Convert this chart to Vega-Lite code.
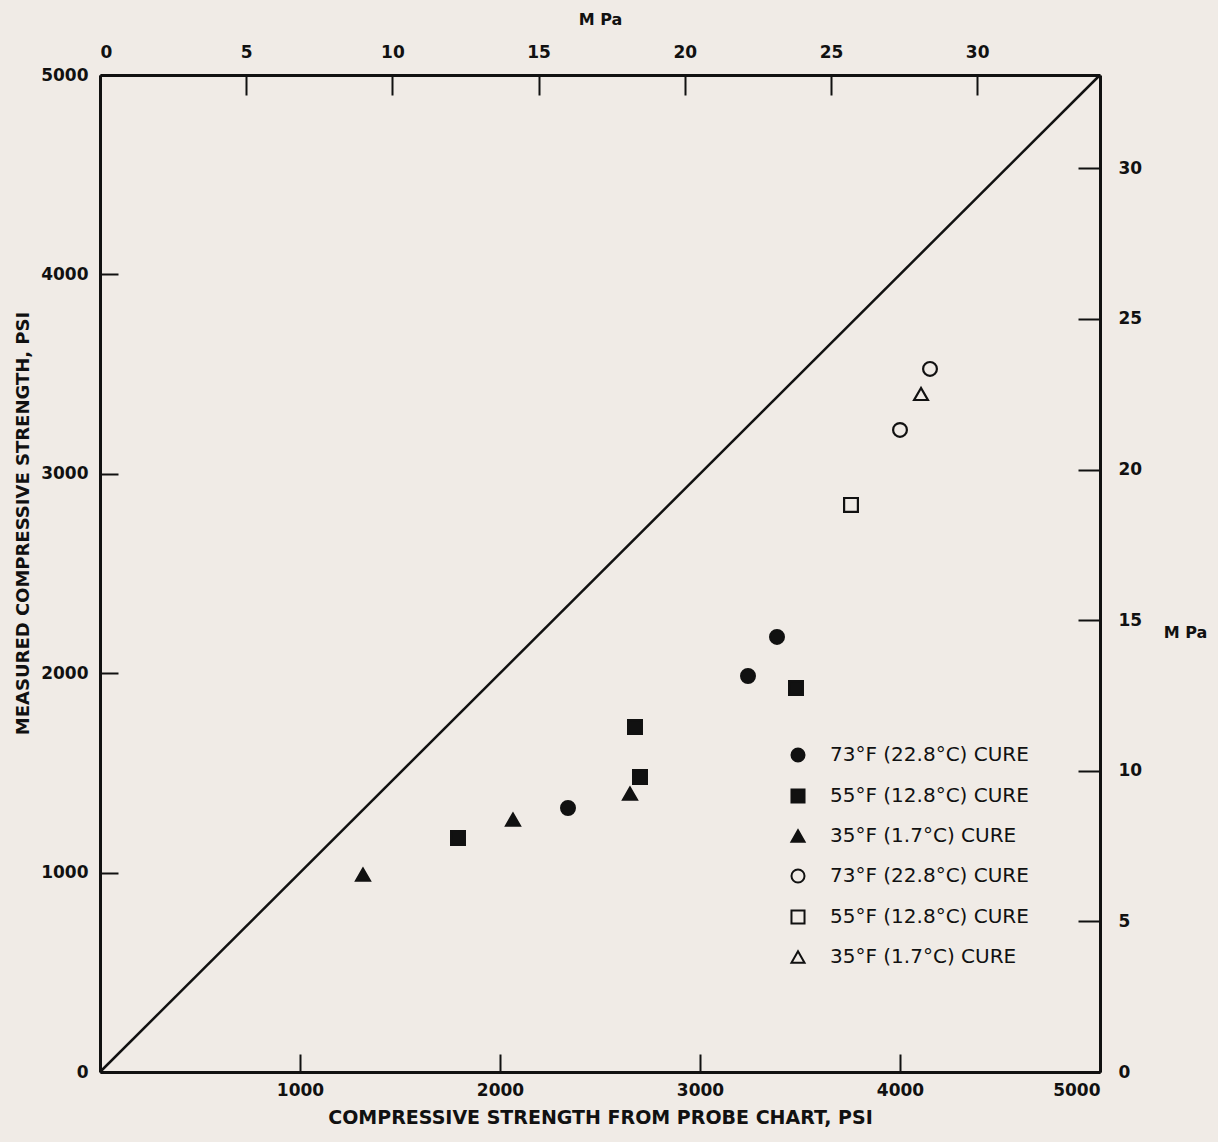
{
  "$schema": "https://vega.github.io/schema/vega-lite/v6.json",
  "autosize": {"type": "none"},
  "width": 1000,
  "height": 997,
  "padding": {"left": 100, "top": 75, "right": 118, "bottom": 70},
  "background": "#f0ebe6",
  "config": {
    "view": {"stroke": null},
    "axis": {"labelFont": "DejaVu Sans", "titleFont": "DejaVu Sans", "labelColor": "#111", "titleColor": "#111", "domainColor": "#111", "tickColor": "#111", "grid": false, "labelFontWeight": "bold", "titleFontWeight": "bold", "format": "d"}
  },
  "datasets": {
    "pts": [
      {"series": "A1", "probe": 2340, "measured": 1324},
      {"series": "A1", "probe": 3240, "measured": 1986},
      {"series": "A1", "probe": 3385, "measured": 2182},
      {"series": "A2", "probe": 1790, "measured": 1174},
      {"series": "A2", "probe": 2675, "measured": 1730},
      {"series": "A2", "probe": 2700, "measured": 1479},
      {"series": "A2", "probe": 3480, "measured": 1926},
      {"series": "A3", "probe": 1315, "measured": 990},
      {"series": "A3", "probe": 2065, "measured": 1266},
      {"series": "A3", "probe": 2650, "measured": 1396},
      {"series": "B1", "probe": 4150, "measured": 3526},
      {"series": "B1", "probe": 4000, "measured": 3220},
      {"series": "B2", "probe": 3755, "measured": 2844},
      {"series": "B3", "probe": 4105, "measured": 3400}
    ],
    "diag": [
      {"probe": 0, "measured": 0},
      {"probe": 5000, "measured": 5000}
    ]
  },
  "layer": [
    {
      "layer": [
        {
          "data": {"name": "diag"},
          "mark": {"type": "line", "color": "#111", "strokeWidth": 2.5},
          "encoding": {
            "x": {"field": "probe", "type": "quantitative", "scale": {"domain": [0, 5000], "nice": false},
              "axis": {"orient": "bottom", "values": [1000, 2000, 3000, 4000, 5000], "title": "COMPRESSIVE STRENGTH FROM PROBE CHART, PSI", "tickSize": -18, "tickWidth": 2, "domainWidth": 3, "labelFontSize": 17, "labelPadding": 28, "titleFontSize": 19, "titlePadding": 10}},
            "y": {"field": "measured", "type": "quantitative", "scale": {"domain": [0, 5000], "nice": false},
              "axis": {"orient": "left", "values": [0, 1000, 2000, 3000, 4000, 5000], "title": "MEASURED COMPRESSIVE STRENGTH, PSI", "titleY": 448, "tickSize": -18, "tickWidth": 2, "domainWidth": 3, "labelFontSize": 17, "labelPadding": 30, "titleFontSize": 18, "titlePadding": 8}}
          }
        },
        {
          "data": {"name": "pts"},
          "mark": {"type": "point", "filled": true, "strokeWidth": 2.2, "stroke": "#111", "opacity": 1},
          "encoding": {
            "x": {"field": "probe", "type": "quantitative"},
            "y": {"field": "measured", "type": "quantitative"},
            "shape": {"field": "series", "type": "nominal",
              "scale": {"domain": ["A1", "A2", "A3", "B1", "B2", "B3"], "range": ["circle", "square", "triangle-up", "circle", "square", "triangle-up"]},
              "legend": {"orient": "none", "legendX": 688, "legendY": 670, "title": null, "labelFont": "DejaVu Sans", "labelFontSize": 20, "labelColor": "#111", "labelLimit": 0, "symbolSize": 170, "symbolStrokeWidth": 2, "symbolStrokeColor": "#111", "rowPadding": 19, "labelOffset": 22,
                "labelExpr": "indexof(['A1','B1'], datum.value) >= 0 ? '73°F (22.8°C) CURE' : (indexof(['A2','B2'], datum.value) >= 0 ? '55°F (12.8°C)  CURE' : '35°F (1.7°C) CURE')",
                "encode": {"symbols": {"enter": {"stroke": {"value": "#111"}, "strokeWidth": {"value": 2}}, "update": {"stroke": {"value": "#111"}, "strokeWidth": {"value": 2}}}}}},
            "color": {"field": "series", "type": "nominal",
              "scale": {"domain": ["A1", "A2", "A3", "B1", "B2", "B3"], "range": ["#111", "#111", "#111", "#f0ebe6", "#f0ebe6", "#f0ebe6"]}},
            "stroke": {"value": "#111"},
            "size": {"value": 190}
          }
        }
      ]
    },
    {
      "mark": {"type": "point", "opacity": 0},
      "data": {"values": [{"mpa": 0}]},
      "encoding": {
        "x": {"field": "mpa", "type": "quantitative", "scale": {"domain": [0, 34.2], "nice": false},
          "axis": {"orient": "top", "values": [0, 5, 10, 15, 20, 25, 30], "title": "M Pa", "tickSize": -20, "tickWidth": 2, "domainWidth": 3, "labelFontSize": 17, "labelPadding": 34, "titleFontSize": 16, "titlePadding": 16}},
        "y": {"field": "mpa", "type": "quantitative", "scale": {"domain": [0, 33.1], "nice": false},
          "axis": {"orient": "right", "values": [0, 5, 10, 15, 20, 25, 30], "title": "M Pa", "titleAngle": 0, "titleX": 85, "titleY": 565, "tickSize": -22, "tickWidth": 2, "domainWidth": 3, "labelFontSize": 17, "labelPadding": 40, "titleFontSize": 16}}
      }
    }
  ],
  "resolve": {"scale": {"x": "independent", "y": "independent", "shape": "shared", "color": "shared"}}
}
